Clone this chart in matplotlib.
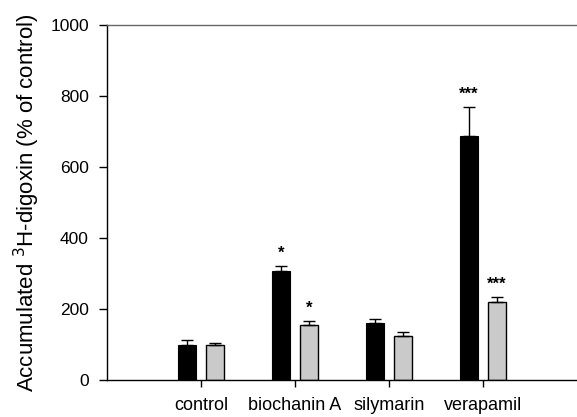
import numpy as np
import matplotlib.pyplot as plt

plt.rcParams['font.family'] = ['Liberation Sans', 'DejaVu Sans']

# data
categories = ['control', 'biochanin A', 'silymarin', 'verapamil']
black_vals = [100, 307, 160, 687]
black_err = [13, 14, 11, 82]
gray_vals = [100, 155, 124, 220]
gray_err = [5, 12, 11, 14]
black_stars = ['', '*', '', '***']
gray_stars = ['', '*', '', '***']

x = np.arange(len(categories))
w = 0.19
off = 0.15

fig = plt.figure(figsize=(5.77, 4.17), dpi=100)
ax = fig.add_axes([0.1854, 0.0887, 0.8146, 0.8513])

ekw = dict(ecolor='black', elinewidth=1, capsize=4.3, capthick=1)
ax.bar(x - off, black_vals, w, color='black', edgecolor='black', linewidth=0.8,
       yerr=[np.zeros(len(x)), black_err], error_kw=ekw)
ax.bar(x + off, gray_vals, w, color='#cacaca', edgecolor='black', linewidth=1,
       yerr=[np.zeros(len(x)), gray_err], error_kw=ekw)

# significance marks
for i in range(len(x)):
    if black_stars[i]:
        ax.text(x[i] - off, black_vals[i] + black_err[i] + 35, black_stars[i],
                ha='center', va='center', fontsize=12, fontweight='bold')
    if gray_stars[i]:
        ax.text(x[i] + off, gray_vals[i] + gray_err[i] + 35, gray_stars[i],
                ha='center', va='center', fontsize=12, fontweight='bold')

ax.set_xlim(-1.0, 4.0)
ax.set_ylim(0, 1000)
ax.set_yticks([0, 200, 400, 600, 800, 1000])
ax.set_xticks(x)
ax.set_xticklabels(categories)
ax.tick_params(axis='y', labelsize=12.5, direction='out', length=6, width=1, pad=7)
ax.tick_params(axis='x', labelsize=13, direction='out', length=5, width=1, pad=7)
ax.set_ylabel('Accumulated $^{3}$H-digoxin (% of control)', fontsize=16, labelpad=6)

ax.spines['right'].set_visible(False)
ax.spines['top'].set_color('#666666')
ax.spines['top'].set_linewidth(1)
ax.spines['left'].set_linewidth(1)
ax.spines['bottom'].set_linewidth(1)

fig.savefig('out.png', dpi=100)
